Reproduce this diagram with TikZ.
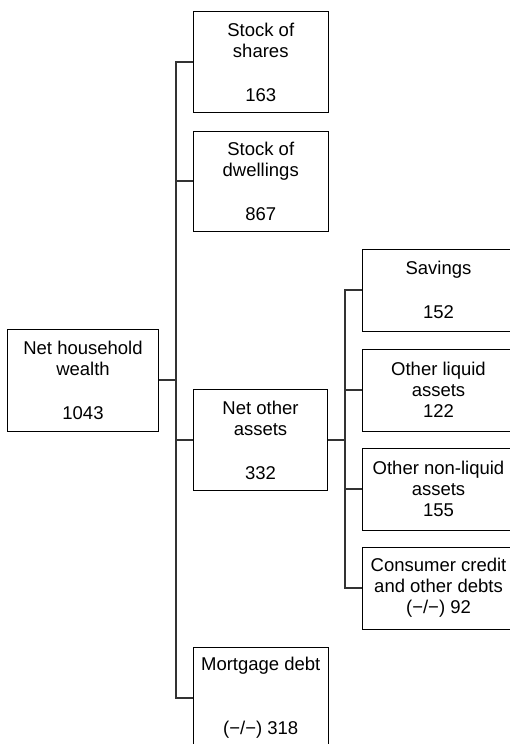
\documentclass[tikz,border=0pt]{standalone}
\usepackage{fontspec}
\setmainfont{Liberation Sans}
\begin{document}
\begin{tikzpicture}[x=1pt, y=-1pt, line join=miter,
	box/.style={draw=black, line width=1pt, align=center, inner sep=0pt,
		font=\fontsize{18.5}{21}\selectfont, minimum width=#1},
	box/.default=134.5pt,
	wire/.style={draw=black!80, line width=1.2pt}]
	\clip (0,0) rectangle (510,744);
	% left and middle column
	\node[box=151pt, minimum height=102pt] (wealth) at (83,380) {Net household\\wealth\\[23pt]1043};
	\node[box, minimum height=101pt] (shares) at (260.75,62) {Stock of\\shares\\[23pt]163};
	\node[box, minimum height=100pt] (dwellings) at (260.75,181) {Stock of\\dwellings\\[23pt]867};
	\node[box, minimum height=101pt] (other) at (260.5,440) {Net other\\assets\\[23pt]332};
	\node[box, minimum height=102pt] (mortgage) at (260.75,698) {Mortgage debt\\[43pt](−/−) 318};
	% right column
	\node[box=152pt, minimum height=82pt] (savings) at (438.5,290) {Savings\\[23pt]152};
	\node[box=152pt, minimum height=82pt] (liquid) at (438.5,390) {Other liquid\\assets\\122};
	\node[box=152pt, minimum height=82pt] (nonliquid) at (438.5,489) {Other non-liquid\\assets\\155};
	\node[box=152pt, minimum height=82pt] (credit) at (438.5,588) {Consumer credit\\and other debts\\(−/−) 92};
	% connectors
	\coordinate (bus1) at (176,380);
	\coordinate (bus2) at (345,440);
	\draw[wire] (wealth.east) -- (bus1);
	\draw[wire] (shares.west) -| (bus1) |- (mortgage.west);
	\draw[wire] (dwellings.west) -- (dwellings.west -| bus1);
	\draw[wire] (other.west) -- (other.west -| bus1);
	\draw[wire] (other.east) -- (bus2);
	\draw[wire] (savings.west) -| (bus2) |- (credit.west);
	\draw[wire] (liquid.west) -- (liquid.west -| bus2);
	\draw[wire] (nonliquid.west) -- (nonliquid.west -| bus2);
\end{tikzpicture}
\end{document}
